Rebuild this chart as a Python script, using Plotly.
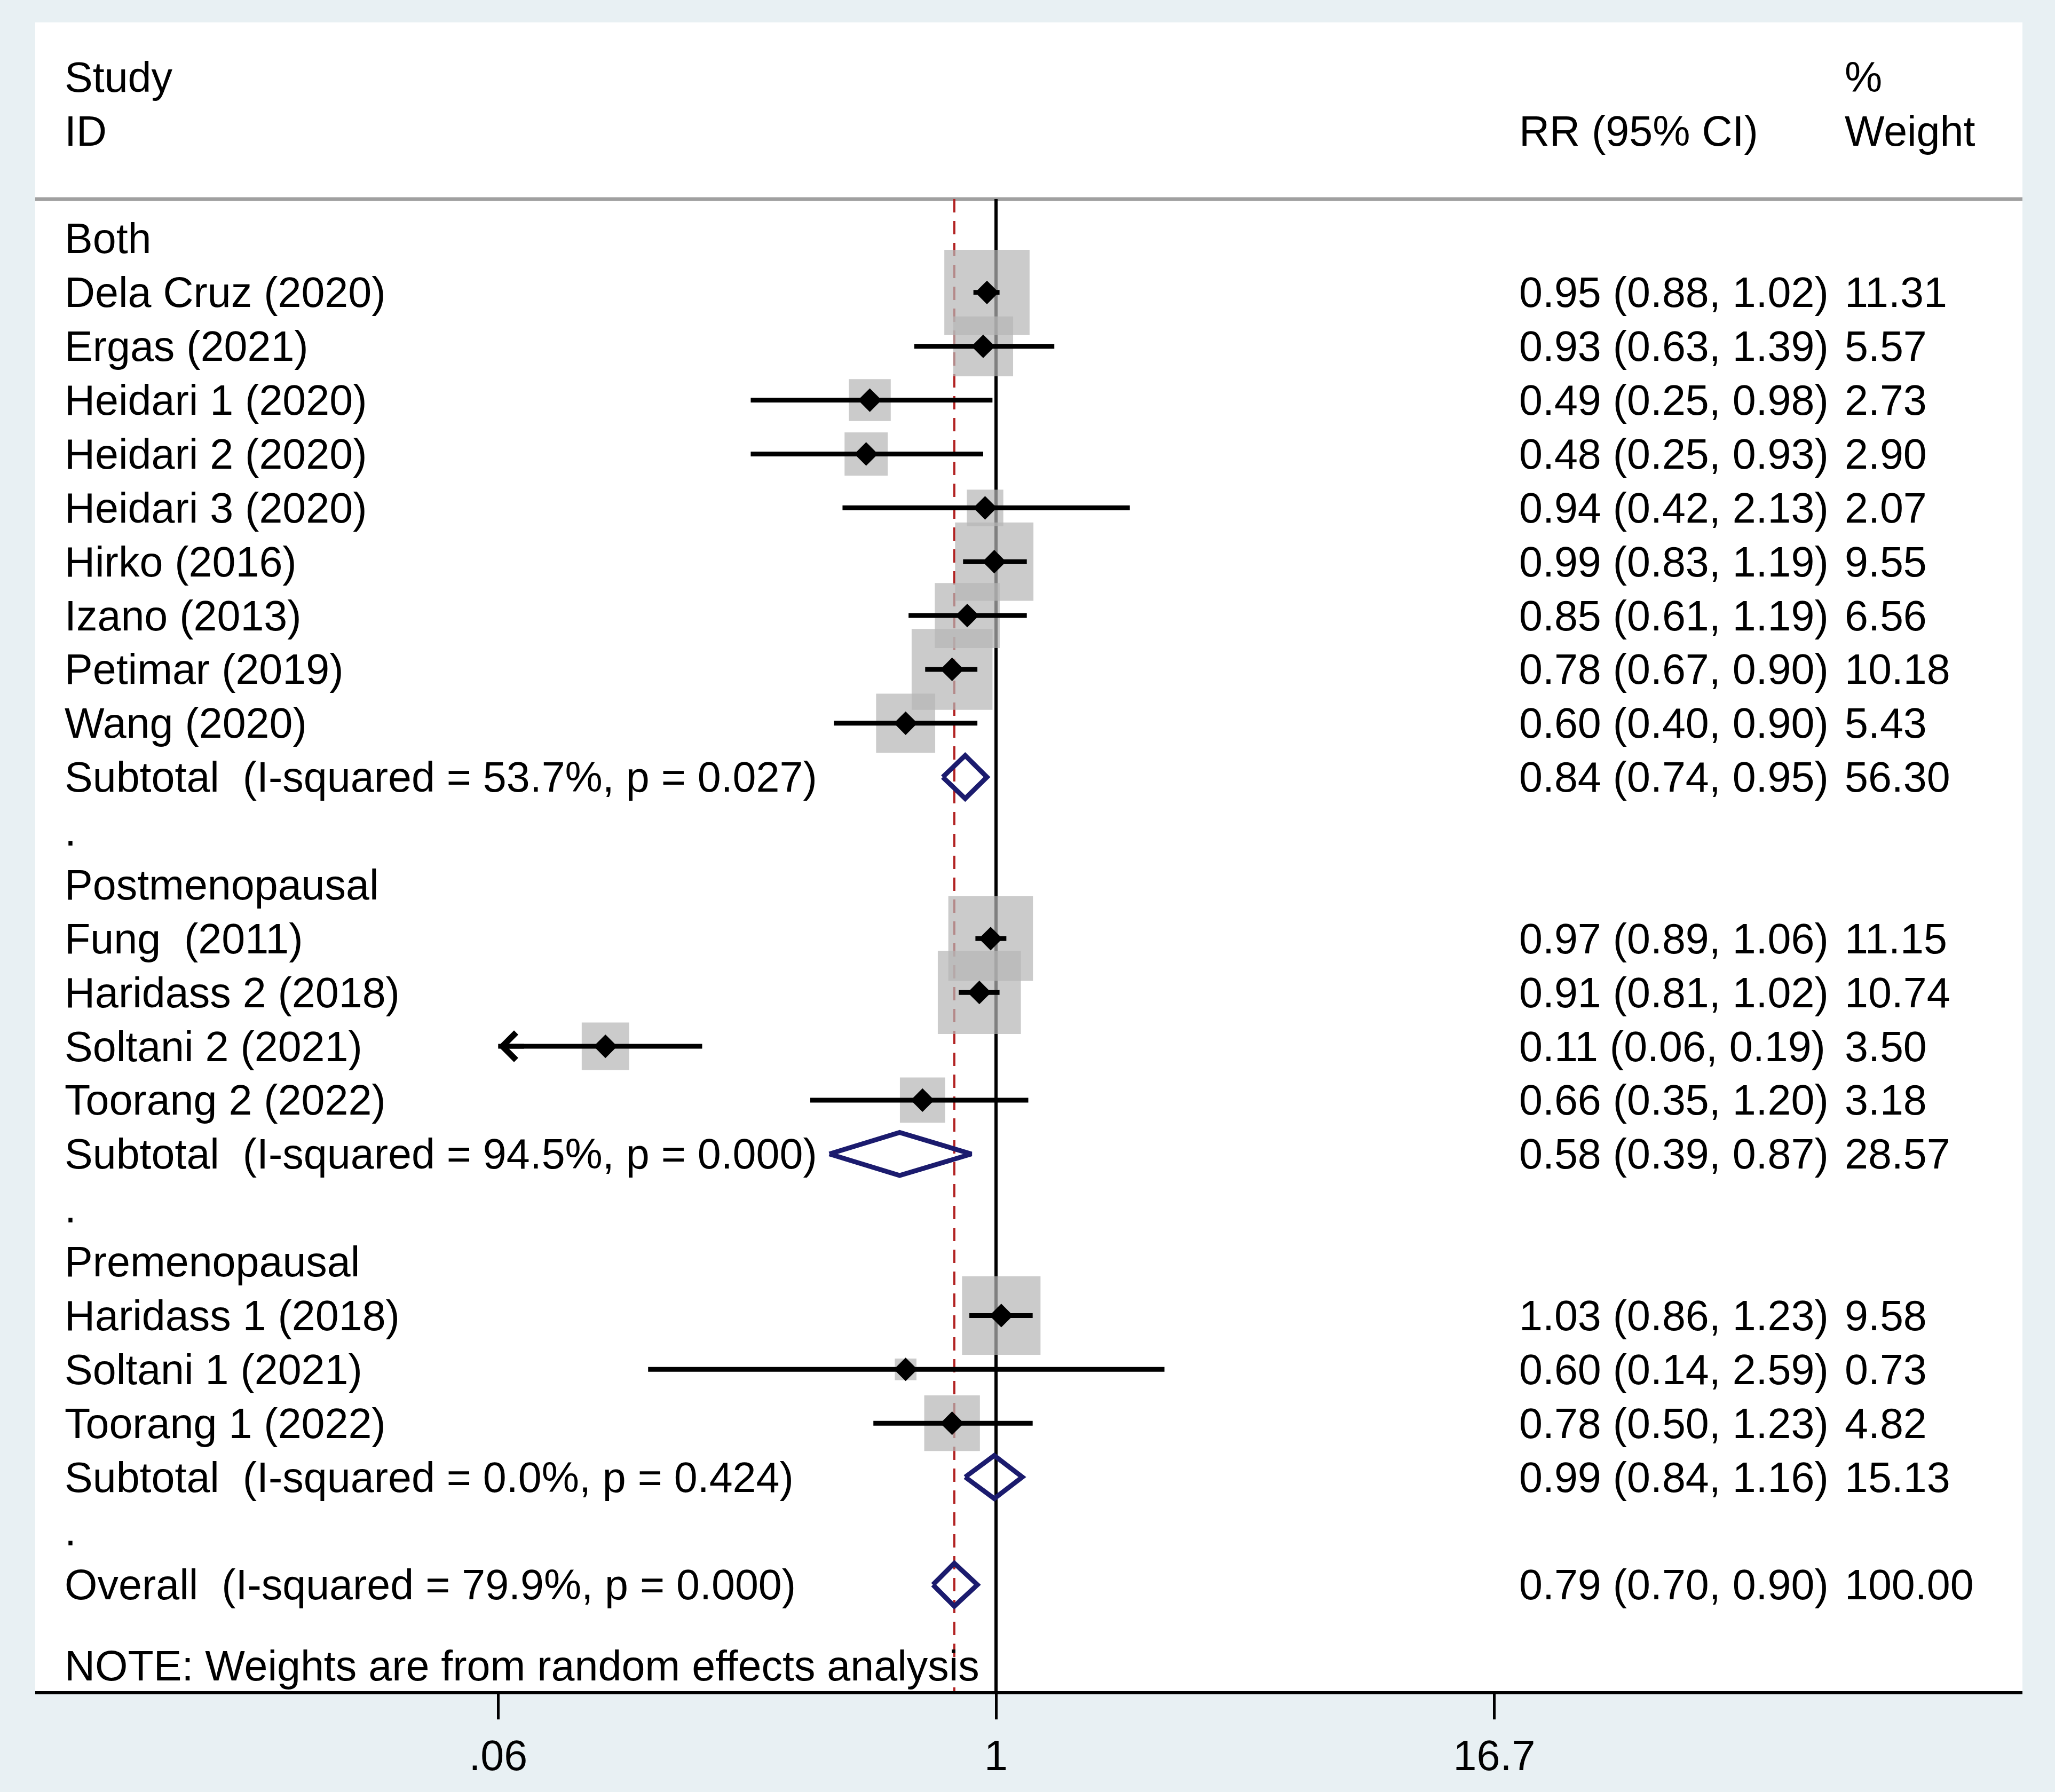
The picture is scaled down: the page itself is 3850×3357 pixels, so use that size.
import numpy as np
import plotly.graph_objects as go

# ---------------- data ----------------
group_names = ["Both", "Postmenopausal", "Premenopausal"]

both_studies = ["Dela Cruz (2020)", "Ergas (2021)", "Heidari 1 (2020)", "Heidari 2 (2020)",
                "Heidari 3 (2020)", "Hirko (2016)", "Izano (2013)", "Petimar (2019)", "Wang (2020)"]
both_rr = [0.95, 0.93, 0.49, 0.48, 0.94, 0.99, 0.85, 0.78, 0.60]
both_lo = [0.88, 0.63, 0.25, 0.25, 0.42, 0.83, 0.61, 0.67, 0.40]
both_hi = [1.02, 1.39, 0.98, 0.93, 2.13, 1.19, 1.19, 0.90, 0.90]
both_wt = [11.31, 5.57, 2.73, 2.90, 2.07, 9.55, 6.56, 10.18, 5.43]

post_studies = ["Fung  (2011)", "Haridass 2 (2018)", "Soltani 2 (2021)", "Toorang 2 (2022)"]
post_rr = [0.97, 0.91, 0.11, 0.66]
post_lo = [0.89, 0.81, 0.06, 0.35]
post_hi = [1.06, 1.02, 0.19, 1.20]
post_wt = [11.15, 10.74, 3.50, 3.18]

pre_studies = ["Haridass 1 (2018)", "Soltani 1 (2021)", "Toorang 1 (2022)"]
pre_rr = [1.03, 0.60, 0.78]
pre_lo = [0.86, 0.14, 0.50]
pre_hi = [1.23, 2.59, 1.23]
pre_wt = [9.58, 0.73, 4.82]

sub_i2 = [53.7, 94.5, 0.0]
sub_p = [0.027, 0.000, 0.424]
sub_rr = [0.84, 0.58, 0.99]
sub_lo = [0.74, 0.39, 0.84]
sub_hi = [0.95, 0.87, 1.16]
sub_wt = [56.30, 28.57, 15.13]

overall_i2 = 79.9
overall_p = 0.000
overall_rr = 0.79
overall_lo = 0.70
overall_hi = 0.90
overall_wt = 100.00

axis_ticks = [0.06, 1, 16.7]
axis_ticktext = [".06", "1", "16.7"]
note_text = "NOTE: Weights are from random effects analysis"

# ---------------- style ----------------
W, H = 3850, 3357
FONT = "Liberation Sans, Arial, sans-serif"
FS = 79
BOX_COLOR = "#b5b5b5"
NAVY = "#1b1b6e"
RED = "#b22222"
BG = "#e8f0f3"
M_L, M_R, M_T, M_B = 66, 61, 42, 189
Y_TOP = -4.015
Y_BOT = Y_TOP + (H - M_T - M_B) / 100.87
HDR_Y = -0.734
DIAM_H = 0.40
X_LEFT, X_RR, X_WT = 0.0143, 0.7463, 0.9099

groups = [
    (both_studies, both_rr, both_lo, both_hi, both_wt),
    (post_studies, post_rr, post_lo, post_hi, post_wt),
    (pre_studies, pre_rr, pre_lo, pre_hi, pre_wt),
]

left_text = []   # (row, text)
rr_text = []
wt_text = []
st_y, st_rr, st_lo, st_hi, st_wt = [], [], [], [], []
diamonds = []    # (row, rr, lo, hi)

row = 0
for gi, (names, rr, lo, hi, wt) in enumerate(groups):
    left_text.append((row, group_names[gi]))
    row += 1
    for n, e, l, h, w in zip(names, rr, lo, hi, wt):
        left_text.append((row, n))
        rr_text.append((row, f"{e:.2f} ({l:.2f}, {h:.2f})"))
        wt_text.append((row, f"{w:.2f}"))
        st_y.append(row); st_rr.append(e); st_lo.append(l); st_hi.append(h); st_wt.append(w)
        row += 1
    left_text.append((row, f"Subtotal  (I-squared = {sub_i2[gi]:.1f}%, p = {sub_p[gi]:.3f})"))
    rr_text.append((row, f"{sub_rr[gi]:.2f} ({sub_lo[gi]:.2f}, {sub_hi[gi]:.2f})"))
    wt_text.append((row, f"{sub_wt[gi]:.2f}"))
    diamonds.append((row, sub_rr[gi], sub_lo[gi], sub_hi[gi]))
    row += 1
    left_text.append((row, "."))
    row += 1
left_text.append((row, f"Overall  (I-squared = {overall_i2:.1f}%, p = {overall_p:.3f})"))
rr_text.append((row, f"{overall_rr:.2f} ({overall_lo:.2f}, {overall_hi:.2f})"))
wt_text.append((row, f"{overall_wt:.2f}"))
diamonds.append((row, overall_rr, overall_lo, overall_hi))
note_row = row + 1.5

fig = go.Figure()

# reference line at 1 and dashed overall line
fig.add_trace(go.Scatter(x=[1, 1], y=[HDR_Y, Y_BOT], mode="lines",
                         line=dict(color="black", width=6), hoverinfo="skip"))
fig.add_trace(go.Scatter(x=[overall_rr, overall_rr], y=[HDR_Y, Y_BOT], mode="lines",
                         line=dict(color=RED, width=4, dash="25px,16px"), hoverinfo="skip"))

# weight boxes
fig.add_trace(go.Scatter(
    x=st_rr, y=st_y, mode="markers",
    marker=dict(symbol="square", color=BOX_COLOR, size=[47.5 * np.sqrt(w) for w in st_wt],
                line=dict(width=0)),
    hoverinfo="skip"))

# confidence intervals (clipped at axis minimum tick)
clip_lo = axis_ticks[0]
cx, cy = [], []
for yv, l, h in zip(st_y, st_lo, st_hi):
    cx += [max(l, clip_lo), h, None]
    cy += [yv, yv, None]
fig.add_trace(go.Scatter(x=cx, y=cy, mode="lines", line=dict(color="black", width=9),
                         hoverinfo="skip"))

# point estimates
fig.add_trace(go.Scatter(x=st_rr, y=st_y, mode="markers",
                         marker=dict(symbol="diamond", color="black", size=34),
                         hoverinfo="skip"))

# pooled diamonds
for yv, e, l, h in diamonds:
    fig.add_trace(go.Scatter(x=[l, e, h, e, l], y=[yv, yv - DIAM_H, yv, yv + DIAM_H, yv],
                             mode="lines", line=dict(color=NAVY, width=9), hoverinfo="skip"))

annotations = []
# arrows for clipped CIs
for yv, l in zip(st_y, st_lo):
    if l <= clip_lo:
        annotations.append(dict(x=np.log10(clip_lo), y=yv, xref="x", yref="y", ax=50, ay=0,
                                text="", showarrow=True, arrowhead=4, arrowsize=1.1,
                                arrowwidth=9, arrowcolor="black", standoff=0))

tfont = dict(family=FONT, size=FS, color="black")


def txt(xp, yv, s):
    return dict(x=xp, y=yv, xref="paper", yref="y", text=s, showarrow=False,
                xanchor="left", yanchor="middle", font=tfont)


annotations.append(txt(X_LEFT, -3, "Study"))
annotations.append(txt(X_LEFT, -2, "ID"))
annotations.append(txt(X_RR, -2, "RR (95% CI)"))
annotations.append(txt(X_WT, -3, "%"))
annotations.append(txt(X_WT, -2, "Weight"))
for yv, s in left_text:
    annotations.append(txt(X_LEFT, yv, s))
for yv, s in rr_text:
    annotations.append(txt(X_RR, yv, s))
for yv, s in wt_text:
    annotations.append(txt(X_WT, yv, s))
annotations.append(txt(X_LEFT, note_row, note_text))

fig.update_layout(
    width=W, height=H,
    margin=dict(l=M_L, r=M_R, t=M_T, b=M_B, pad=0, autoexpand=False),
    paper_bgcolor=BG, plot_bgcolor="white",
    showlegend=False,
    annotations=annotations,
    shapes=[dict(type="line", xref="paper", yref="y", x0=0, x1=1, y0=HDR_Y, y1=HDR_Y,
                 line=dict(color="#a0a0a0", width=7), layer="below")],
    xaxis=dict(type="log", range=[-2.358, 2.519], tickvals=axis_ticks, ticktext=axis_ticktext,
               ticks="outside", ticklen=47, tickwidth=5, tickcolor="black",
               showline=True, linewidth=6, linecolor="black", showgrid=False, zeroline=False,
               tickfont=tfont, fixedrange=True, automargin=False),
    yaxis=dict(range=[Y_BOT, Y_TOP], visible=False, showgrid=False, zeroline=False,
               fixedrange=True, automargin=False),
    font=tfont,
)

fig.write_html("out.html", config={"displayModeBar": False},
               post_script="document.body.style.margin='0px';document.body.style.overflow='hidden';")
